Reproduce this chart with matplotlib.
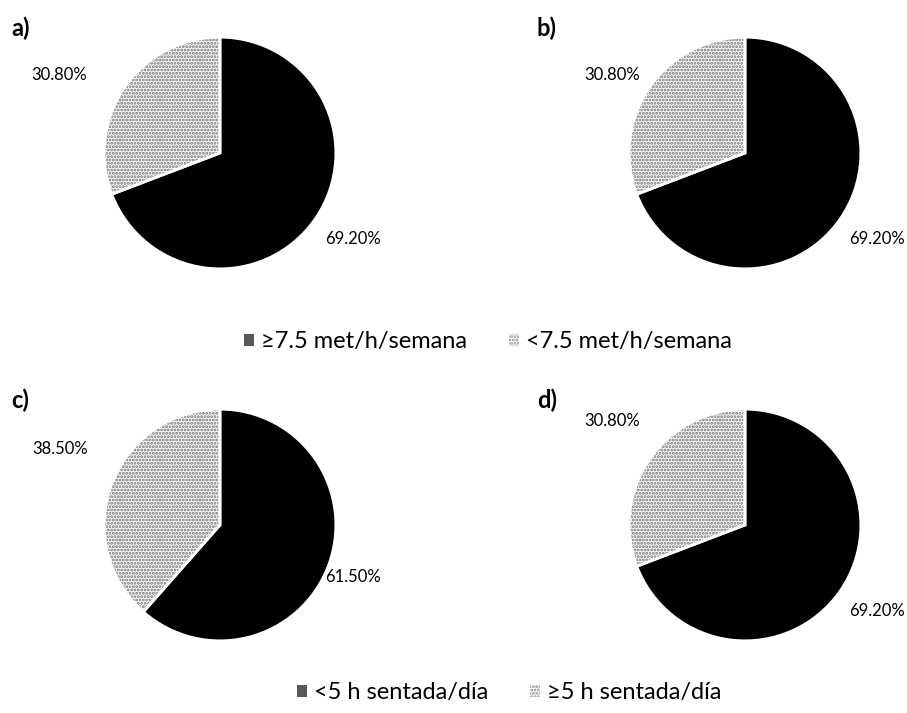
import matplotlib
matplotlib.use("Agg")
import matplotlib.pyplot as plt
from matplotlib.patches import Patch

plt.rcParams['font.family'] = ['Lato', 'DejaVu Sans']
plt.rcParams['hatch.linewidth'] = 1.4

# --------- data ---------
panels = ["a)", "b)", "c)", "d)"]
active = [69.2, 69.2, 61.5, 69.2]        # black slice
inactive = [30.8, 30.8, 38.5, 30.8]      # dotted slice
legend_top = ["≥7.5 met/h/semana", "<7.5 met/h/semana"]
legend_bottom = ["<5 h sentada/día", "≥5 h sentada/día"]

# label positions in pie units (radius = 1): (black label, dotted label)
lab_pos = [((1.15, -0.74), (-1.39, 0.67)),
           ((1.14, -0.74), (-1.15, 0.67)),
           ((1.15, -0.45), (-1.38, 0.66)),
           ((1.14, -0.74), (-1.15, 0.90))]

W, H = 907, 713
fig = plt.figure(figsize=(W / 100, H / 100), dpi=100)

centers = [(220, 153), (745, 153), (220, 525), (745, 525)]
r = 117
letter_pos = [(11, 28), (537, 28), (11, 400), (537, 400)]

dot_color = '#6e6e6e'

for i in range(4):
    cx, cy = centers[i]
    ax = fig.add_axes([(cx - r) / W, 1 - (cy + r) / H, 2 * r / W, 2 * r / H])
    vals = [active[i], inactive[i]]
    wedges, _ = ax.pie(vals, startangle=90, counterclock=False,
                       colors=['black', 'white'], radius=1)
    wedges[1].set_hatch('.....')
    wedges[1].set_edgecolor(dot_color)
    wedges[1].set_linewidth(0)
    wedges[0].set_linewidth(0)
    # white separators
    ax.pie(vals, startangle=90, counterclock=False, radius=1,
           wedgeprops=dict(fill=False, edgecolor='white', linewidth=2))
    ax.set_xlim(-1.01, 1.01)
    ax.set_ylim(-1.01, 1.01)
    ax.set_aspect('equal')
    for v, (x, y) in zip(vals, lab_pos[i]):
        ax.text(x, y, "%.2f%%" % v, ha='center', va='center', fontsize=12,
                clip_on=False)
    lx, ly = letter_pos[i]
    fig.text(lx / W, 1 - ly / H, panels[i], fontsize=17, fontweight='bold',
             ha='left', va='center')


def handles():
    return [Patch(facecolor='#595959', edgecolor='#595959', linewidth=0),
            Patch(facecolor='white', hatch='.....', edgecolor='#8a8a8a', linewidth=0)]


kw = dict(loc='center', ncol=2, frameon=False, fontsize=17, handlelength=0.42,
          handleheight=0.42, handletextpad=0.3, columnspacing=1.75)
fig.legend(handles(), legend_top, bbox_to_anchor=(488 / W, 1 - 342 / H), **kw)
fig.legend(handles(), legend_bottom, bbox_to_anchor=(509 / W, 1 - 693 / H), **kw)

fig.savefig("out.png", dpi=100)
